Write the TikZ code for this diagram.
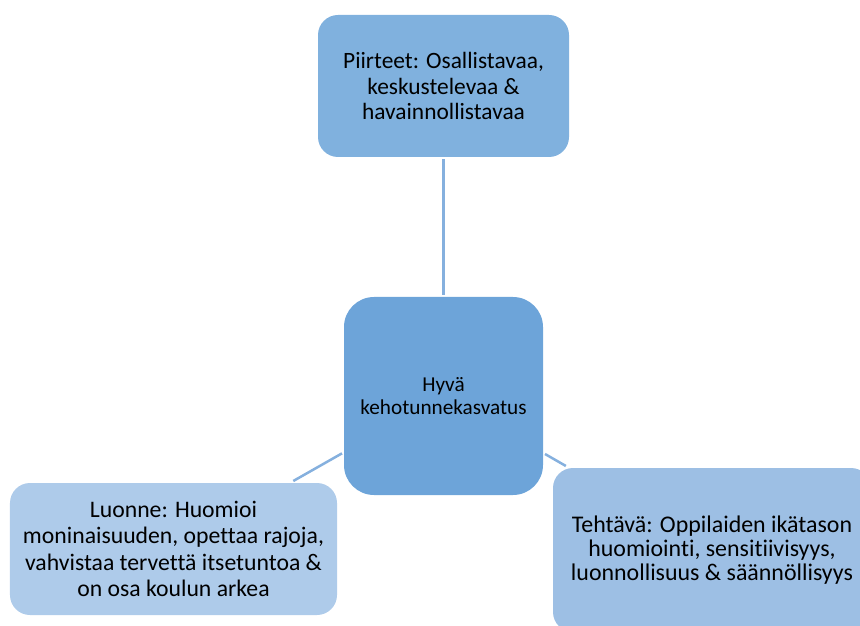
\documentclass[tikz,border=0pt]{standalone}
\usepackage{fontspec}
\setmainfont{Carlito}[Ligatures=NoCommon]
\usetikzlibrary{positioning}
\definecolor{piirre}{HTML}{80B1DE}
\definecolor{keski}{HTML}{6DA4D9}
\definecolor{luonne}{HTML}{AECBEA}
\definecolor{tehtava}{HTML}{9DBFE4}
\definecolor{viiva}{HTML}{85B0DE}

\begin{document}
\begin{tikzpicture}[x=1bp,y=-1bp,
  laatikko/.style={rounded corners=20bp,align=center,inner sep=0pt,outer sep=2bp},
  yhteys/.style={draw=viiva,line width=2.5bp}]
\clip (0,0) rectangle (860,626);
% laatikot
\node[laatikko,fill=keski,rounded corners=30bp,%
      minimum width=199bp,minimum height=198bp,%
      font=\fontsize{21.3}{23.3}\selectfont] (H) at (443.5,396)
  {Hyvä\\kehotunnekasvatus};
\node[laatikko,fill=piirre,minimum width=251bp,minimum height=142bp,%
      font=\fontsize{23.5}{26}\selectfont] (P) at (443.5,86)
  {Piirteet: Osallistavaa,\\keskustelevaa \&\\havainnollistavaa};
\node[laatikko,fill=luonne,minimum width=327bp,minimum height=132bp,%
      font=\fontsize{23.8}{26.6}\selectfont] (L) at (173.5,549)
  {Luonne: Huomioi\\moninaisuuden, opettaa rajoja,\\vahvistaa tervettä itsetuntoa \&\\on osa koulun arkea};
\node[laatikko,fill=tehtava,minimum width=318bp,minimum height=164bp,%
      font=\fontsize{24}{24.3}\selectfont] (T) at (712,550)
  {Tehtävä: Oppilaiden ikätason\\huomiointi, sensitiivisyys,\\luonnollisuus \& säännöllisyys};
% viivat
\draw[yhteys] (H) -- (P);
\draw[yhteys] (H) -- (L);
\draw[yhteys] (H) -- (T);
\end{tikzpicture}
\end{document}
